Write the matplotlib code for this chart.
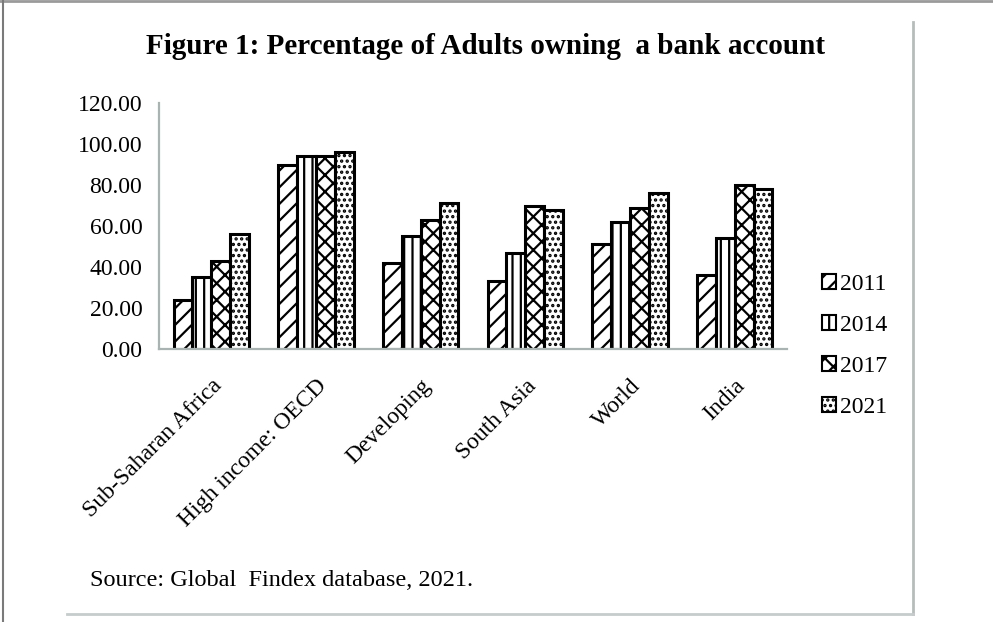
import matplotlib
matplotlib.use("Agg")
import matplotlib.pyplot as plt
import numpy as np
from matplotlib.lines import Line2D

plt.rcParams["font.family"] = ["Liberation Serif", "DejaVu Serif"]
plt.rcParams["hatch.linewidth"] = 1.6

regions = ["Sub-Saharan Africa", "High income: OECD", "Developing", "South Asia", "World", "India"]
years = ["2011", "2014", "2017", "2021"]
v2011 = [24, 90, 42, 33, 51, 36]
v2014 = [35, 94, 55, 47, 62, 54]
v2017 = [43, 94, 63, 70, 69, 80]
v2021 = [56, 96, 71, 68, 76, 78]
series = [v2011, v2014, v2017, v2021]
hatches = ["//", "||", "xx", "..."]

fig = plt.figure(figsize=(9.93, 6.22), dpi=100)
ax = fig.add_axes([159/993, 1-349/622, (787-159)/993, (349-103)/622])

x = np.arange(len(regions))
w = 0.18
for i, vals in enumerate(series):
    ax.bar(x + (i - 1.5) * w, vals, w, color="white", edgecolor="black",
           linewidth=2.2, hatch=hatches[i], label=years[i])

ax.set_xlim(-0.5, 5.5)
ax.set_ylim(0, 120)
ax.set_yticks(np.arange(0, 121, 20))
ax.set_yticklabels(["%.2f" % t for t in np.arange(0, 121, 20)], fontsize=17)
ax.set_xticks(x)
ax.set_xticklabels(regions, fontsize=17, rotation=45, ha="right", va="top",
                   rotation_mode="anchor")
ax.tick_params(axis="y", length=0, pad=12)
ax.tick_params(axis="x", length=0, pad=19)
for s in ["top", "right"]:
    ax.spines[s].set_visible(False)
for s in ["left", "bottom"]:
    ax.spines[s].set_color("#a9b3b1")
    ax.spines[s].set_linewidth(1.6)

leg = fig.legend(loc="upper left", bbox_to_anchor=(810/993, 1-262/622), frameon=False,
                 fontsize=17, handlelength=0.6, handleheight=0.6, handletextpad=0.15,
                 labelspacing=0.85, borderpad=0)
for p in leg.get_patches():
    p.set_linewidth(1.5)

fig.text(485/993, 1-47/622, "Figure 1: Percentage of Adults owning  a bank account",
         ha="center", va="center", fontsize=21, fontweight="bold")
fig.text(90/993, 1-580/622, "Source: Global  Findex database, 2021.",
         ha="left", va="center", fontsize=17.5)

# scanned page frame
fig.add_artist(Line2D([0, 1], [1-1/622, 1-1/622], color="#9a9a9a", lw=2))
fig.add_artist(Line2D([3/993, 3/993], [0, 1], color="#7a7a7a", lw=1.5))
fig.add_artist(Line2D([913/993, 913/993], [1-614/622, 1-22/622], color="#b5bdbb", lw=2))
fig.add_artist(Line2D([67/993, 913/993], [1-614/622, 1-614/622], color="#c5cccb", lw=2))

fig.savefig("out.png", dpi=100)
